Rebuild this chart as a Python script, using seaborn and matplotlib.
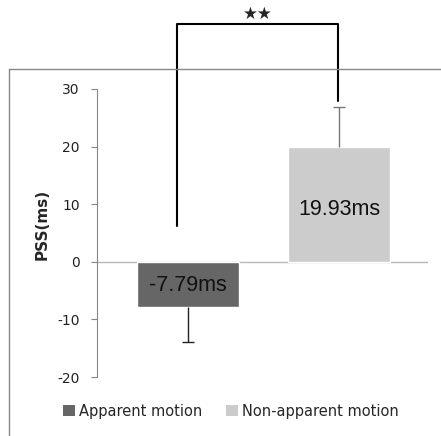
import matplotlib
matplotlib.use("Agg")
import matplotlib.pyplot as plt
from matplotlib.lines import Line2D
from matplotlib.patches import Patch
import seaborn as sns
import pandas as pd

# ---- data ----
conditions = ["Apparent motion", "Non-apparent motion"]
pss_values = [-7.79, 19.93]
pss_errors = [6.2, 6.9]
bar_labels = ["-7.79ms", "19.93ms"]
bar_colors = ["#666666", "#cccccc"]
err_colors = ["#222222", "#777777"]
y_ticks = [-20, -10, 0, 10, 20, 30]
sig_text = "★★"
# significance bracket (x in category units, y in ms)
bracket_x = [-0.07, -0.07, 0.99, 0.99]
bracket_y = [6.2, 41.2, 41.2, 28.0]

sns.set_theme(style="white")
plt.rcParams["font.family"] = ["DejaVu Sans"]
plt.rcParams["axes.unicode_minus"] = False

fig = plt.figure(figsize=(4.41, 4.36), dpi=100)
ax = fig.add_axes([97 / 441, 1 - 377 / 436, (428 - 97) / 441, (377 - 89) / 436])

df = pd.DataFrame({"condition": conditions, "pss": pss_values})
sns.barplot(data=df, x="condition", y="pss", hue="condition",
            palette=dict(zip(conditions, bar_colors)), width=0.67,
            errorbar=None, legend=False, ax=ax, saturation=1, zorder=2)

# one-sided error bars
for i, (v, e, c) in enumerate(zip(pss_values, pss_errors, err_colors)):
    lo = [e] if v < 0 else [0]
    hi = [e] if v > 0 else [0]
    _, caps, _ = ax.errorbar([i], [v], yerr=[lo, hi], fmt="none", ecolor=c,
                             elinewidth=1, capsize=4.5, capthick=1, zorder=3)
    # hide the cap that sits on the bar end
    if v < 0:
        caps[1].set_visible(False)
    else:
        caps[0].set_visible(False)

# bar value labels
for i, (v, lab) in enumerate(zip(pss_values, bar_labels)):
    ax.text(i, v / 2 - (0.8 if v > 0 else 0.3), lab, ha="center", va="center",
            fontsize=15.5, family="Liberation Sans", color="#111111", zorder=4)

ax.axhline(0, color="#b8b8b8", lw=1, zorder=1)
ax.set_xlim(-0.603, 1.589)
ax.set_ylim(-20, 30)
ax.set_yticks(y_ticks)
ax.set_xticks([])
ax.set_xlabel("")
ax.set_ylabel("PSS(ms)", fontsize=11, fontweight="bold")
ax.yaxis.set_label_coords(-0.142, 0.53)
for s in ["top", "right", "bottom"]:
    ax.spines[s].set_visible(False)
ax.spines["left"].set_color("#868686")
ax.spines["left"].set_linewidth(0.8)
ax.tick_params(axis="y", left=True, length=4.5, width=0.8, color="#868686",
               labelsize=10, labelcolor="#222222", pad=8)

# significance bracket
ax.plot(bracket_x, bracket_y, color="black", lw=1.5, clip_on=False, zorder=5)
ax.text((bracket_x[0] + bracket_x[-1]) / 2, bracket_y[1] + 0.3, sig_text,
        ha="center", va="bottom", fontsize=12, clip_on=False)

# outer frame (partially visible)
fig.add_artist(Line2D([9 / 441, 1.0], [1 - 69 / 436, 1 - 69 / 436],
                      transform=fig.transFigure, color="#888888", lw=1))
fig.add_artist(Line2D([9 / 441, 9 / 441], [1 - 69 / 436, 0.0],
                      transform=fig.transFigure, color="#888888", lw=1))

handles = [Patch(facecolor=c, edgecolor="none") for c in bar_colors]
fig.legend(handles, conditions, loc="center", ncol=2, frameon=False,
           bbox_to_anchor=(0.524, 1 - 411 / 436), fontsize=10.5,
           handlelength=0.8, handleheight=0.8, handletextpad=0.3,
           columnspacing=1.6)

fig.savefig("out.png", dpi=100)
